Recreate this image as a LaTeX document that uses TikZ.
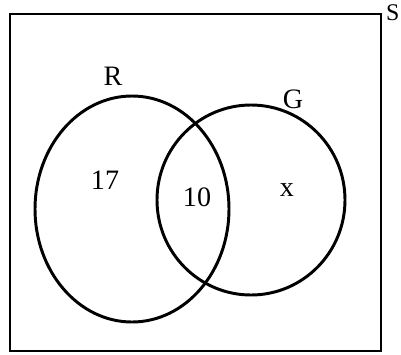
\documentclass[tikz,border=0pt]{standalone}
\usepackage{fontspec}
\setmainfont{Liberation Serif}
\tikzset{
    setline/.style={line width=2.1pt},
    setlabel/.style={font=\fontsize{20}{24}\selectfont, inner sep=0pt}
}
\begin{document}
\begin{tikzpicture}
        \useasboundingbox (0,0) rectangle (10.025,8.85);

        % Universal set
        \draw[line width=1.8pt] (0.25,0.075) rectangle (9.525,8.5);
        \node[setlabel, font=\fontsize{17}{20}\selectfont, anchor=north east] (S) at (9.99,8.75) {S};

        % Sets R and G
        \draw[setline] (3.3,3.625) ellipse (2.425 and 2.825);
        \draw[setline] (6.275,3.85) ellipse (2.35 and 2.375);
        \node[setlabel] (R) at (2.825,6.95) {R};
        \node[setlabel] (G) at (7.325,6.375) {G};

        % counts in each region
        \node[setlabel] (onlyR) at (2.625,4.35) {17};
        \node[setlabel] (RandG) at (4.925,3.925) {10};
        \node[setlabel] (onlyG) at (7.175,4.1) {x};

    \end{tikzpicture}
\end{document}
